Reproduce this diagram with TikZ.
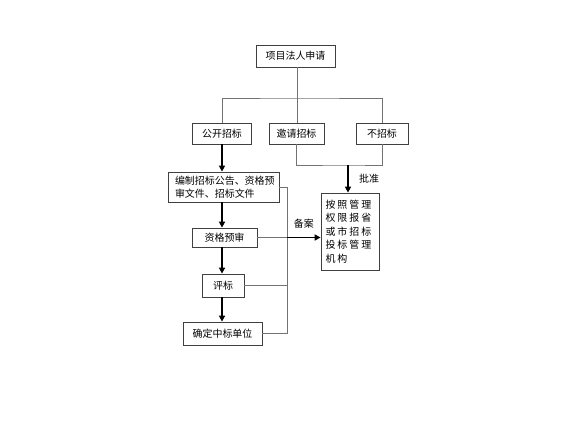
\documentclass[tikz,border=0pt]{standalone}
\usepackage{fontspec}
\setmainfont{Noto Sans CJK SC}
\usetikzlibrary{arrows.meta}
\begin{document}
\begin{tikzpicture}[x=1bp, y=-1bp, font=\fontsize{10}{13.5}\selectfont,
    box/.style={draw=black!75, line width=0.8bp, inner sep=0pt},
    line/.style={draw=black!55, line width=0.8bp},
    arrow/.style={draw=black, line width=1.8bp, -{Triangle[length=6bp, width=6bp]}}]
    \useasboundingbox (0,0) rectangle (576,432);

    % --- Top: application ---
    \node[box, minimum width=79bp, minimum height=22bp] (apply) at (295.5,56) {项目法人申请};

    % --- Tender modes ---
    \node[box, minimum width=59bp, minimum height=21bp] (open) at (222,133.5) {公开招标};
    \node[box, minimum width=55bp, minimum height=21bp] (invite) at (296.5,133.5) {邀请招标};
    \node[box, minimum width=52bp, minimum height=21bp] (none) at (382,133.5) {不招标};

    % Split lines
    \coordinate (split) at (297,98);
    \draw[line] (apply.south -| split) -- (split);
    \draw[line] (open.north) |- (split) -| (none.north);
    \draw[line] (split) -- (invite.north -| split);

    % --- Left chain ---
    \node[box, minimum width=111bp, minimum height=30bp, text width=97bp, align=left] (prepare) at (223.5,187) {编制招标公告、资格预\\审文件、招标文件};
    \node[box, minimum width=65bp, minimum height=19bp] (prequal) at (224.5,237.5) {资格预审};
    \node[box, minimum width=42bp, minimum height=23bp] (evaluate) at (223,285.5) {评标};
    \node[box, minimum width=79bp, minimum height=23bp] (award) at (222.5,333.5) {确定中标单位};

    \draw[arrow] (open.south) -- (prepare.north -| open.south);
    \draw[arrow] (prepare.south -| open.south) -- (prequal.north -| open.south);
    \draw[arrow] (prequal.south -| open.south) -- (evaluate.north -| open.south);
    \draw[arrow] (evaluate.south -| open.south) -- (award.north -| open.south);

    % --- Authority ---
    \node[box, minimum width=58bp, minimum height=77bp, text width=49bp, align=left,
        font=\fontsize{10}{13.5}\selectfont\addfontfeature{LetterSpace=20}] (authority) at (350,231.5) {按照管理\\权限报省\\或市招标\\投标管理\\机构};

    % Approval (invite / none)
    \coordinate (join) at (348,165);
    \draw[line] (invite.south) |- (join) -| (none.south);
    \draw[arrow] (join) -- (join |- authority.north) node[midway, right=7bp] {批准};

    % Filing (left chain)
    \coordinate (spine) at (287,237.5);
    \draw[line] (prepare.east) -- (prepare.east -| spine) -- (award.east -| spine) -- (award.east);
    \draw[line] (evaluate.east) -- (evaluate.east -| spine);
    \draw[line] (prequal.east) -- (spine);
    \draw[arrow] (spine) -- (authority.west |- spine) node[midway, above=5bp] {备案};
\end{tikzpicture}
\end{document}
